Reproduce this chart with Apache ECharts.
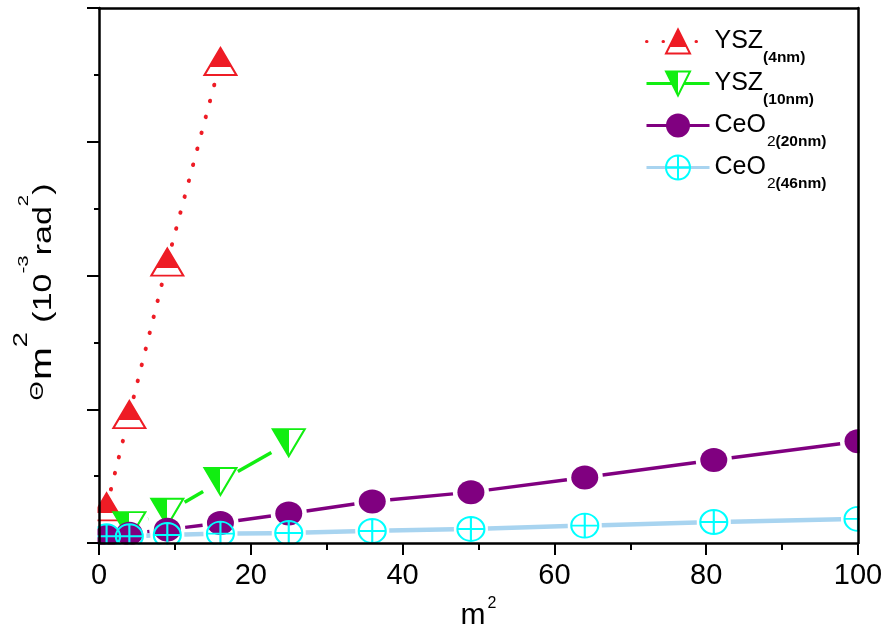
<!DOCTYPE html>
<html>
<head>
<meta charset="utf-8">
<script src="https://cdn.jsdelivr.net/npm/echarts@6/dist/echarts.min.js"></script>
<style>
  html, body { margin: 0; padding: 0; background: #ffffff; }
  #chart { width: 887px; height: 627px; }
</style>
</head>
<body>
<div id="chart"></div>
<script>
// Series names (legend labels)
const seriesNames = ['YSZ(4nm)', 'YSZ(10nm)', 'CeO2(20nm)', 'CeO2(46nm)'];

// m^2 values for each sample
const xYSZ4  = [1, 4, 9, 16];
const xYSZ10 = [4, 9, 16, 25];
const xCeO2  = [1, 4, 9, 16, 25, 36, 49, 64, 81, 100];

// Theta_m^2 values (10^-3 rad^2)
const yYSZ4    = [0.27, 0.96, 2.10, 3.60];
const yYSZ10   = [0.13, 0.23, 0.46, 0.75];
const yCeO2_20 = [0.05, 0.07, 0.10, 0.15, 0.22, 0.31, 0.38, 0.49, 0.62, 0.76];
const yCeO2_46 = [0.05, 0.05, 0.06, 0.07, 0.075, 0.09, 0.105, 0.13, 0.157, 0.18];

const pairs = (xs, ys) => xs.map((x, i) => [x, ys[i]]);
// Consecutive point pairs [x0, y0, x1, y1] for the connecting segments
const segments = (xs, ys) => xs.slice(0, -1).map((x, i) => [x, ys[i], xs[i + 1], ys[i + 1]]);

const FONT = 'Liberation Sans, Arial, sans-serif';
const GRID = { left: 99, right: 29, top: 8, bottom: 84 };
const W = 887, H = 627;

const RED = '#ee1c25', GREEN = '#11ee11', PURPLE = '#800080', CYAN = '#00ffff', LIGHTBLUE = '#a8d4f0';

// Half-filled marker fills
const redHalf = {
  type: 'linear', x: 0, y: 0, x2: 0, y2: 1,
  colorStops: [
    { offset: 0, color: RED }, { offset: 0.7, color: RED },
    { offset: 0.7, color: '#ffffff' }, { offset: 1, color: '#ffffff' }
  ]
};
const greenHalf = {
  type: 'linear', x: 0, y: 0, x2: 1, y2: 0,
  colorStops: [
    { offset: 0, color: GREEN }, { offset: 0.5, color: GREEN },
    { offset: 0.5, color: '#ffffff' }, { offset: 1, color: '#ffffff' }
  ]
};

const triDown = 'path://M0,0 L32,0 L16,27 Z';
const ellipse = 'path://M0,12 A12,12 0 1,1 24,12 A12,12 0 1,1 0,12 Z';
const circlePlus = 'path://M0,12 A12,12 0 1,1 24,12 A12,12 0 1,1 0,12 Z M12,0 L12,24 M0,12 L24,12';

// Legend text: main part plus subscript
function legendText(name) {
  const m = name.match(/^(YSZ|CeO)(2?)(\(.*\))$/);
  if (!m) return name;
  let s = '{main|' + m[1] + '}';
  if (m[2]) s += '{subn|' + m[2] + '}';
  s += '{sub|' + m[3] + '}';
  return s;
}

// Connecting lines that stop short of each marker
function gappedLine(color, width, dash, gap) {
  return function (params, api) {
    const p0 = api.coord([api.value(0), api.value(1)]);
    const p1 = api.coord([api.value(2), api.value(3)]);
    const dx = p1[0] - p0[0], dy = p1[1] - p0[1];
    const len = Math.hypot(dx, dy);
    if (len <= 2 * gap) return null;
    const ux = dx / len, uy = dy / len;
    return {
      type: 'line',
      shape: { x1: p0[0] + ux * gap, y1: p0[1] + uy * gap, x2: p1[0] - ux * gap, y2: p1[1] - uy * gap },
      style: { stroke: color, lineWidth: width, lineDash: dash || null, lineCap: dash ? 'round' : 'butt' }
    };
  };
}

function lineSeries(name, xs, ys, color, width, dash, gap) {
  return {
    name: name + ' segments', type: 'custom', z: 1,
    encode: { x: [0, 2], y: [1, 3] },
    data: segments(xs, ys),
    renderItem: gappedLine(color, width, dash, gap),
    silent: true
  };
}

const frameLine = { show: true, onZero: false, lineStyle: { color: '#000', width: 2.5 } };

const chart = echarts.init(document.getElementById('chart'), null, { renderer: 'canvas' });

chart.setOption({
  animation: false,
  backgroundColor: '#ffffff',
  grid: Object.assign({ containLabel: false, outerBoundsMode: 'none' }, GRID),
  xAxis: [
    {
      type: 'value', min: 0, max: 100, interval: 20, z: 5,
      axisLine: frameLine,
      axisTick: { show: true, inside: false, length: 12, lineStyle: { color: '#000', width: 2 } },
      minorTick: { show: true, splitNumber: 2, length: 7, lineStyle: { color: '#000', width: 2 } },
      splitLine: { show: false },
      axisLabel: { color: '#000', fontFamily: FONT, fontSize: 29, lineHeight: 30, margin: 18 },
      name: '{n|m}{p|2}',
      nameLocation: 'middle',
      nameGap: 51,
      nameTextStyle: {
        rich: {
          n: { fontFamily: FONT, fontSize: 30, color: '#000', lineHeight: 34, verticalAlign: 'bottom' },
          p: { fontFamily: FONT, fontSize: 16, color: '#000', lineHeight: 16, verticalAlign: 'bottom', padding: [0, 0, 19, 2] }
        }
      }
    },
    {
      type: 'value', position: 'top', min: 0, max: 100, z: 5,
      axisLine: frameLine, axisTick: { show: false }, axisLabel: { show: false }, splitLine: { show: false }
    }
  ],
  yAxis: [
    {
      type: 'value', min: 0, max: 4, interval: 1, z: 5,
      axisLine: frameLine,
      axisTick: { show: true, inside: false, length: 12, lineStyle: { color: '#000', width: 2 } },
      minorTick: { show: true, splitNumber: 2, length: 5, lineStyle: { color: '#000', width: 2 } },
      splitLine: { show: false },
      axisLabel: { show: false }
    },
    {
      type: 'value', position: 'right', min: 0, max: 4, z: 5,
      axisLine: frameLine, axisTick: { show: false }, axisLabel: { show: false }, splitLine: { show: false }
    }
  ],
  legend: {
    orient: 'vertical',
    left: 640,
    top: 12,
    itemWidth: 63,
    itemHeight: 30,
    itemGap: -7,
    data: seriesNames,
    lineStyle: { width: 3, opacity: 1 },
    formatter: legendText,
    textStyle: {
      rich: {
        main: { fontFamily: FONT, fontSize: 25, color: '#000', lineHeight: 45, verticalAlign: 'middle' },
        subn: { fontFamily: FONT, fontSize: 15.5, color: '#000', lineHeight: 15, verticalAlign: 'middle', padding: [33, 0, 0, 1] },
        sub: { fontFamily: FONT, fontSize: 15.5, fontWeight: 'bold', color: '#000', lineHeight: 15, verticalAlign: 'middle', padding: [33, 0, 0, 0] }
      }
    }
  },
  graphic: [
    // White strips outside the plot frame so markers are cut at the axes
    { type: 'rect', z: 3, silent: true, shape: { x: 0, y: 0, width: GRID.left - 1.5, height: H }, style: { fill: '#ffffff' } },
    { type: 'rect', z: 3, silent: true, shape: { x: 0, y: H - GRID.bottom + 1.5, width: W, height: GRID.bottom }, style: { fill: '#ffffff' } },
    { type: 'rect', z: 3, silent: true, shape: { x: W - GRID.right + 1.5, y: 0, width: GRID.right, height: H }, style: { fill: '#ffffff' } },
    { type: 'rect', z: 3, silent: true, shape: { x: 0, y: 0, width: W, height: GRID.top - 1.5 }, style: { fill: '#ffffff' } },
    // Y axis title, read bottom to top
    {
      type: 'text', z: 6, silent: true,
      x: 42, y: 292, rotation: Math.PI / 2, scaleX: 1.36,
      style: {
        text: '{t|\u0398}{m|m}{p|2}{n| (10}{q|-3}{n|rad}{q|2}{n|)}',
        align: 'center', verticalAlign: 'middle',
        rich: {
          t: { fontFamily: FONT, fontSize: 18, fill: '#000', lineHeight: 18, verticalAlign: 'bottom', padding: [0, 1, 10, 0] },
          m: { fontFamily: FONT, fontSize: 29, fill: '#000', lineHeight: 30, verticalAlign: 'bottom' },
          p: { fontFamily: FONT, fontSize: 20, fill: '#000', lineHeight: 20, verticalAlign: 'bottom', padding: [0, 0, 26, 0] },
          n: { fontFamily: FONT, fontSize: 25, fill: '#000', lineHeight: 30, verticalAlign: 'bottom' },
          q: { fontFamily: FONT, fontSize: 15, fill: '#000', lineHeight: 15, verticalAlign: 'bottom', padding: [0, 0, 26, 0] }
        }
      }
    }
  ],
  series: [
    lineSeries(seriesNames[0], xYSZ4, yYSZ4, RED, 4, [0.5, 16], 18),
    lineSeries(seriesNames[1], xYSZ10, yYSZ10, GREEN, 3.5, null, 20),
    lineSeries(seriesNames[2], xCeO2, yCeO2_20, PURPLE, 3.5, null, 18),
    lineSeries(seriesNames[3], xCeO2, yCeO2_46, LIGHTBLUE, 4.5, null, 17),
    {
      name: seriesNames[0], type: 'line', data: pairs(xYSZ4, yYSZ4), z: 2,
      symbol: 'triangle', symbolSize: [32, 27],
      itemStyle: { color: redHalf, borderColor: RED, borderWidth: 2 },
      lineStyle: { color: RED, width: 4, type: [0.5, 16], cap: 'round', opacity: 0 }
    },
    {
      name: seriesNames[1], type: 'line', data: pairs(xYSZ10, yYSZ10), z: 2,
      symbol: triDown, symbolSize: [32, 27],
      itemStyle: { color: greenHalf, borderColor: GREEN, borderWidth: 2 },
      lineStyle: { color: GREEN, width: 3.5, opacity: 0 }
    },
    {
      name: seriesNames[2], type: 'line', data: pairs(xCeO2, yCeO2_20), z: 2,
      symbol: ellipse, symbolSize: [27, 24],
      itemStyle: { color: PURPLE, borderWidth: 0 },
      lineStyle: { color: PURPLE, width: 3.5, opacity: 0 }
    },
    {
      name: seriesNames[3], type: 'line', data: pairs(xCeO2, yCeO2_46), z: 2,
      symbol: circlePlus, symbolSize: [27, 24],
      itemStyle: { color: 'rgba(0,0,0,0)', borderColor: CYAN, borderWidth: 2 },
      lineStyle: { color: LIGHTBLUE, width: 4.5, opacity: 0 }
    }
  ]
});
</script>
</body>
</html>
